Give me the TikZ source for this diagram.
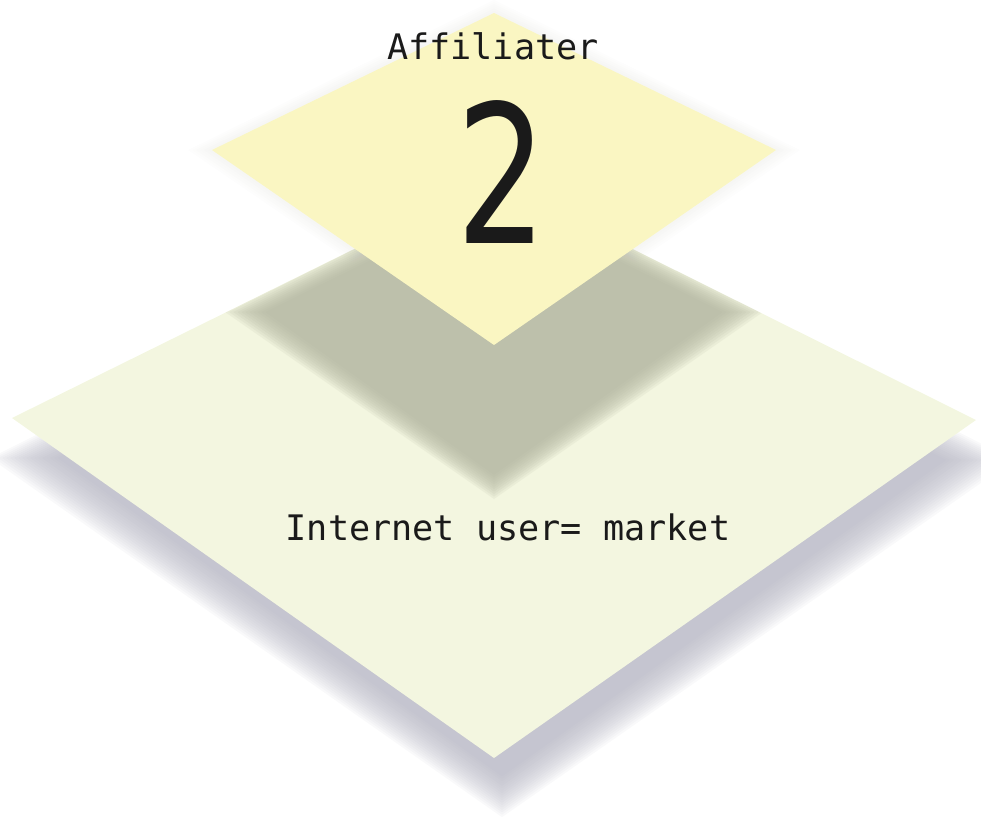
\documentclass[tikz,border=0pt]{standalone}
\usepackage{fontspec}
\usetikzlibrary{calc}
\newfontfamily\labfont{DejaVu Sans Mono}
\newfontfamily\digitfont{DejaVu Sans}
\definecolor{topfill}{HTML}{FAF6C2}
\definecolor{basefill}{HTML}{F3F6E0}
\definecolor{castgray}{HTML}{B2B5A0}
\definecolor{dropgray}{HTML}{B0B0BE}
\definecolor{halo}{HTML}{C8C8C0}
\definecolor{ink}{HTML}{1A1A1A}
\tikzset{
  lab/.style={text=ink, font=\labfont\fontsize{25}{30}\selectfont, inner sep=0pt},
  bigdigit/.style={text=ink, font=\digitfont\fontsize{137}{140}\selectfont, inner sep=0pt, xscale=0.74},
  soft/.style={opacity=0.07},
}
\begin{document}
\begin{tikzpicture}[x=0.025cm,y=-0.025cm]
  \useasboundingbox (0,0) rectangle (981,823);

  % base plate corners
  \coordinate (bl) at (12,418);
  \coordinate (bt) at (494,180);
  \coordinate (br) at (976,420);
  \coordinate (bb) at (494,758);
  % top plate corners
  \coordinate (tl) at (212,150);
  \coordinate (tt) at (494,13);
  \coordinate (tr) at (776,150);
  \coordinate (tb) at (494,345);
  % cast shadow corners
  \coordinate (sl) at (245,312);
  \coordinate (st) at (494,188);
  \coordinate (sr) at (743,312);
  \coordinate (sb) at (494,487);

  % drop shadow under the base plate
  \foreach \g in {-18,-16,...,16}{
    \fill[dropgray, soft]
      ($(bl)+({10-2*\g},40)$) -- ($(bt)+(8,{40-1.1*\g})$) --
      ($(br)+({6+2*\g},40)$) -- ($(bb)+(8,{40+1.2*\g})$) -- cycle;
  }

  % base plate
  \fill[basefill] (bl) -- (bt) -- (br) -- (bb) -- cycle;

  % shadow of the top plate on the base
  \begin{scope}
    \clip (bl) -- (bt) -- (br) -- (bb) -- cycle;
    \foreach \g in {-10,-8,...,10}{
      \fill[castgray, opacity=0.13]
        ($(sl)+({-2*\g},0)$) -- ($(st)+(0,{-1.1*\g})$) --
        ($(sr)+({2*\g},0)$) -- ($(sb)+(0,{1.2*\g})$) -- cycle;
    }
  \end{scope}

  % faint halo round the top plate
  \foreach \g in {2,4,...,12}{
    \fill[halo, opacity=0.03]
      ($(tl)+({-2*\g},0)$) -- ($(tt)+(0,{-1.1*\g})$) --
      ($(tr)+({2*\g},0)$) -- ($(tb)+(0,{1.2*\g})$) -- cycle;
  }

  % top plate
  \fill[topfill] (tl) -- (tt) -- (tr) -- (tb) -- cycle;

  \node[lab] (affil) at (493,46) {Affiliater};
  \node[bigdigit] (num) at (502,172) {2};
  \node[lab] (market) at (508,527) {Internet user= market};
\end{tikzpicture}
\end{document}
